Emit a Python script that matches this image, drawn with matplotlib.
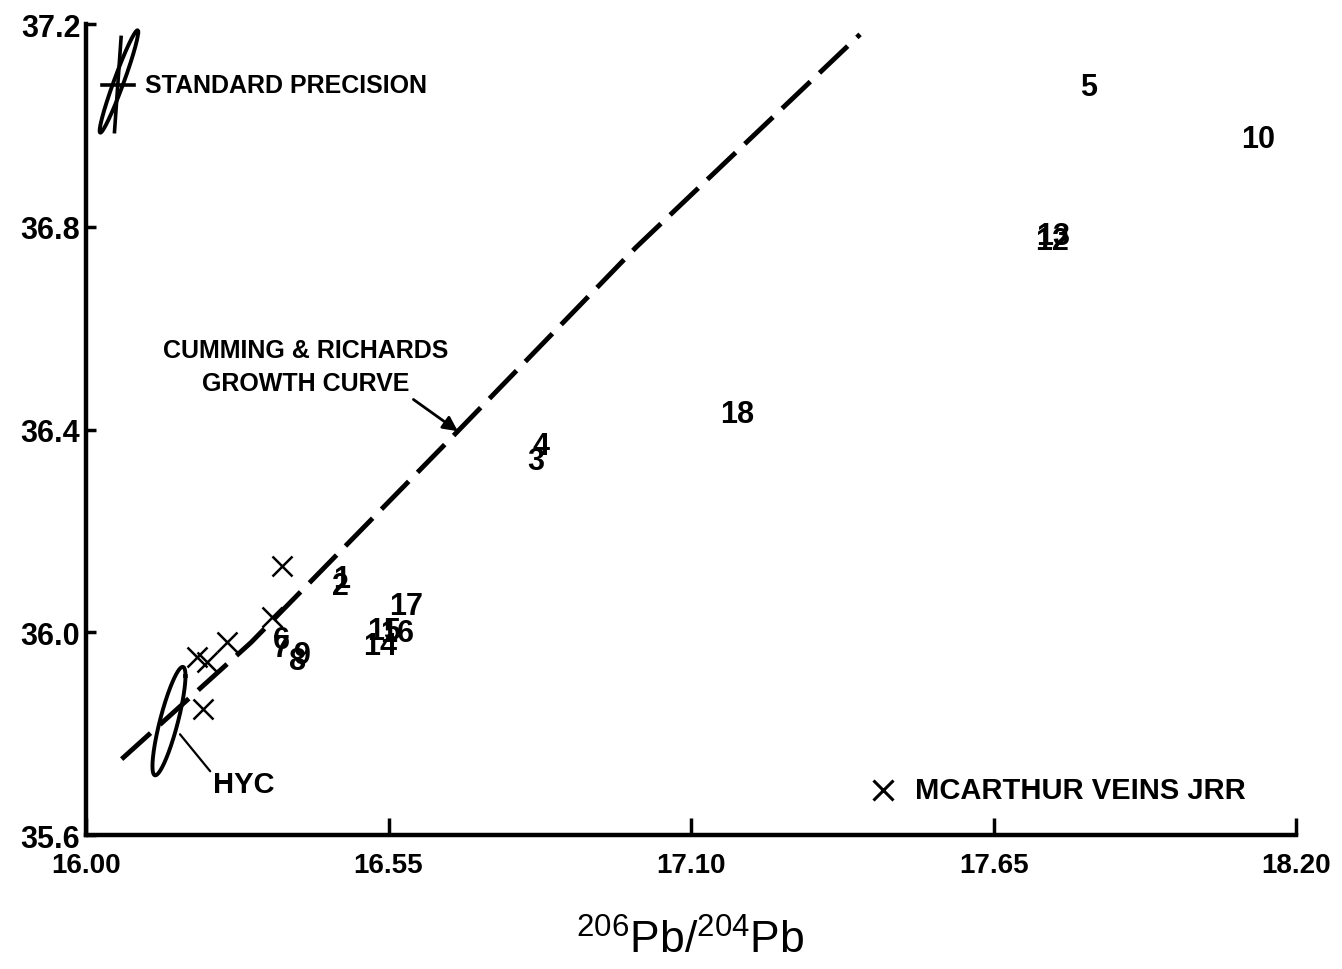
import numpy as np
import matplotlib
matplotlib.use("Agg")
import matplotlib.pyplot as plt

# sample numbers (206Pb/204Pb, 208Pb/204Pb); overprinted pairs kept separate
sample_labels = ["1", "2", "3", "4", "5", "6", "7", "8", "9", "10",
                 "12", "13", "14", "15", "16", "17", "18"]
sample_x = [16.464, 16.462, 16.818, 16.827, 17.822, 16.356, 16.355, 16.385, 16.393, 18.131,
            17.756, 17.758, 16.535, 16.542, 16.565, 16.582, 17.184]
sample_y = [36.105, 36.091, 36.338, 36.367, 37.077, 35.985, 35.969, 35.943, 35.955, 36.973,
            36.772, 36.782, 35.973, 36.002, 35.998, 36.052, 36.430]

# McArthur veins (JRR)
veins_x = [16.356, 16.338, 16.256, 16.220, 16.202, 16.213]
veins_y = [36.131, 36.030, 35.981, 35.941, 35.951, 35.849]

# Cumming & Richards growth curve
curve_x = [16.065, 16.300, 16.676, 17.000, 17.407]
curve_y = [35.750, 35.980, 36.397, 36.760, 37.180]

# error ellipses: centre, sigma x, sigma y, correlation
hyc = (16.151, 35.825, 0.030, 0.107, 0.83)
std_prec = (16.060, 37.087, 0.035, 0.101, 0.963)
std_cross = (16.058, 37.081, 0.029, 0.093, 0.012)  # centre, err x, err y, tilt

x_ticks = [16.00, 16.55, 17.10, 17.65, 18.20]
y_ticks = [35.6, 36.0, 36.4, 36.8, 37.2]


def ellipse_points(cx, cy, sx, sy, rho, n=200):
    cov = np.array([[sx * sx, rho * sx * sy], [rho * sx * sy, sy * sy]])
    L = np.linalg.cholesky(cov)
    t = np.linspace(0, 2 * np.pi, n)
    pts = L @ np.vstack([np.cos(t), np.sin(t)])
    return cx + pts[0], cy + pts[1]


plt.rcParams["font.family"] = ["Liberation Sans", "DejaVu Sans"]
plt.rcParams["mathtext.default"] = "regular"

fig = plt.figure(figsize=(13.42, 9.70), dpi=100)
ax = fig.add_axes([0.064, 0.138, 0.902, 0.836])
ax.set_xlim(16.00, 18.20)
ax.set_ylim(35.6, 37.2)

# growth curve
ax.plot(curve_x, curve_y, color="black", lw=3.5, ls=(0, (8, 2.6)), solid_capstyle="butt")

# samples as numbers
for lab, x, y in zip(sample_labels, sample_x, sample_y):
    ax.text(x, y, lab, ha="center", va="center", fontsize=22, fontweight="bold")

# veins
ax.plot(veins_x, veins_y, ls="none", marker="x", ms=14, mew=1.8, color="black")

# HYC ellipse
ex, ey = ellipse_points(*hyc)
ax.plot(ex, ey, color="black", lw=2.8)
ax.annotate("HYC", xy=(16.171, 35.799), xytext=(16.231, 35.700),
            ha="left", va="center", fontsize=21, fontweight="bold",
            arrowprops=dict(arrowstyle="-", color="black", lw=1.6, relpos=(0, 0.85),
                            shrinkA=0, shrinkB=0))

# standard precision
ex, ey = ellipse_points(*std_prec)
ax.plot(ex, ey, color="black", lw=2.8)
cx, cy, errx, erry, tilt = std_cross
ax.plot([cx - errx, cx + errx], [cy, cy], color="black", lw=2.6)
ax.plot([cx - tilt / 2, cx + tilt / 2], [cy - erry, cy + erry], color="black", lw=2.6)
ax.text(16.107, 37.081, "STANDARD PRECISION", ha="left", va="center",
        fontsize=18, fontweight="bold")

# growth curve label
ax.annotate("CUMMING & RICHARDS\nGROWTH CURVE", xy=(16.676, 36.397), xytext=(16.400, 36.525),
            ha="center", va="center", fontsize=18, fontweight="bold", linespacing=1.5,
            arrowprops=dict(arrowstyle="-|>", color="black", lw=2, mutation_scale=22,
                            relpos=(0.855, 0), shrinkA=2, shrinkB=0))

# legend
ax.plot([17.449], [35.689], ls="none", marker="x", ms=14, mew=2.2, color="black")
ax.text(17.507, 35.689, "MCARTHUR VEINS JRR", ha="left", va="center",
        fontsize=21, fontweight="bold")

for side in ["top", "right"]:
    ax.spines[side].set_visible(False)
for side in ["left", "bottom"]:
    ax.spines[side].set_linewidth(3.2)

ax.set_xticks(x_ticks)
ax.set_xticklabels([f"{v:.2f}" for v in x_ticks])
ax.set_yticks(y_ticks)
ax.set_yticklabels([f"{v:.1f}" for v in y_ticks])
ax.tick_params(axis="x", direction="in", length=12, width=2.5, pad=12, labelsize=20)
ax.tick_params(axis="y", direction="in", length=7, width=2.5, pad=4, labelsize=22)
for lab in ax.get_xticklabels() + ax.get_yticklabels():
    lab.set_fontweight("bold")

fig.text(0.514, 0.03, r"$^{206}$Pb/$^{204}$Pb", ha="center", va="center", fontsize=32)

fig.savefig("out.png", dpi=100)
